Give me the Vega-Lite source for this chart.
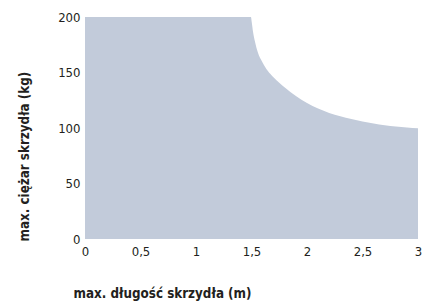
{
  "$schema": "https://vega.github.io/schema/vega-lite/v6.json",
  "autosize": "none",
  "width": 333,
  "height": 222,
  "padding": {"left": 85, "top": 17, "right": 23, "bottom": 68},
  "background": "white",
  "config": {"view": {"stroke": null}},
  "data": {"values": [
    {"x": 0, "y": 200},
    {"x": 1.495, "y": 200},
    {"x": 1.502, "y": 195.5},
    {"x": 1.514, "y": 186.5},
    {"x": 1.532, "y": 177.5},
    {"x": 1.556, "y": 168.5},
    {"x": 1.597, "y": 159.5},
    {"x": 1.646, "y": 151.5},
    {"x": 1.7, "y": 145.5},
    {"x": 1.8, "y": 136.5},
    {"x": 1.9, "y": 128.8},
    {"x": 2.0, "y": 122.5},
    {"x": 2.1, "y": 117.5},
    {"x": 2.2, "y": 113.6},
    {"x": 2.3, "y": 110.6},
    {"x": 2.4, "y": 108.1},
    {"x": 2.5, "y": 105.9},
    {"x": 2.6, "y": 104.0},
    {"x": 2.7, "y": 102.5},
    {"x": 2.8, "y": 101.3},
    {"x": 2.9, "y": 100.4},
    {"x": 3.0, "y": 99.7}
  ]},
  "mark": {"type": "area", "color": "#c2cbda", "interpolate": "monotone"},
  "encoding": {
    "x": {"field": "x", "type": "quantitative",
      "scale": {"domain": [0, 3], "nice": false, "zero": false},
      "axis": {"values": [0, 0.5, 1, 1.5, 2, 2.5, 3], "format": ",.1~f", "labelExpr": "replace(datum.label, '.', ',')",
        "domain": false, "ticks": false, "grid": false, "labelPadding": 6,
        "labelFont": "DejaVu Sans Condensed", "labelFontSize": 13, "labelColor": "#231f20",
        "title": "max. długość skrzydła (m)", "titleFont": "DejaVu Sans Condensed", "titleFontSize": 13.3, "titleFontWeight": "bold", "titleColor": "#231f20",
        "titleX": -12, "titleY": 54, "titleAlign": "left", "titleBaseline": "middle", "labelFlush": false}},
    "y": {"field": "y", "type": "quantitative",
      "scale": {"domain": [0, 200], "nice": false},
      "axis": {"values": [0, 50, 100, 150, 200], "domain": false, "ticks": false, "grid": false, "labelPadding": 5,
        "labelFont": "DejaVu Sans Condensed", "labelFontSize": 13, "labelColor": "#231f20", "labelFlush": false,
        "title": "max. ciężar skrzydła (kg)", "titleFont": "DejaVu Sans Condensed", "titleFontSize": 13.3, "titleFontWeight": "bold", "titleColor": "#231f20",
        "titleX": -61, "titleY": 224, "titleAngle": -90, "titleAlign": "left", "titleBaseline": "middle"}}
  }
}
